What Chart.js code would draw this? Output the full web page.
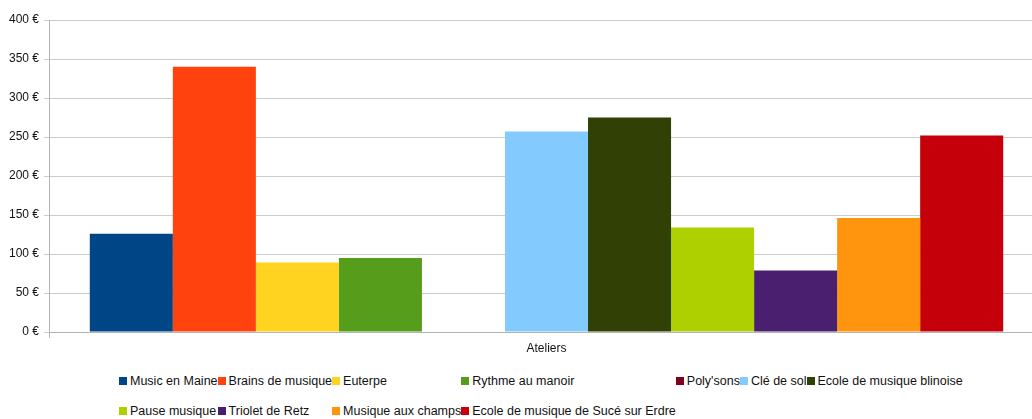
<!DOCTYPE html>
<html><head><meta charset="utf-8">
<script src="https://cdn.jsdelivr.net/npm/chart.js@4/dist/chart.umd.min.js"></script>
<style>
html,body{margin:0;padding:0;background:#fff;overflow:hidden;width:1032px;height:419px;position:relative;}
#wrap{position:absolute;left:0;top:0;width:1044px;height:360px;}
#legend{position:absolute;left:119px;top:366px;display:grid;grid-template-columns:repeat(7,auto);font:12.5px "Liberation Sans",Arial,sans-serif;color:#111;}
.item{display:flex;align-items:center;height:30px;white-space:nowrap;}
.sw{width:8px;height:8px;margin-right:3px;flex:none;}
</style>
</head><body>
<div id="wrap"><canvas id="c" width="1044" height="360"></canvas></div>
<div id="legend"></div>
<script>
const categories = ['Ateliers'];
const seriesNames = ['Music en Maine', 'Brains de musique', 'Euterpe', 'Rythme au manoir', "Poly'sons", 'Clé de sol', 'Ecole de musique blinoise', 'Pause musique', 'Triolet de Retz', 'Musique aux champs', 'Ecole de musique de Sucé sur Erdre'];
const seriesValues = [126, 340, 89, 95, 0, 257, 275, 134, 79, 146, 252];
const seriesColors = ['#004586', '#ff420e', '#ffd320', '#579d1c', '#7e0021', '#83caff', '#314004', '#aecf00', '#4b1f6f', '#ff950e', '#c5000b'];
const yTicks = [0, 50, 100, 150, 200, 250, 300, 350, 400];

const font = {family: '"Liberation Sans", Arial, sans-serif', size: 12};
const datasets = seriesNames.map((n, i) => ({
  label: n,
  data: [seriesValues[i]],
  backgroundColor: seriesColors[i],
  borderWidth: 0,
  categoryPercentage: 0.918,
  barPercentage: 1
}));

new Chart(document.getElementById('c'), {
  type: 'bar',
  data: {labels: categories, datasets},
  options: {
    responsive: false,
    animation: false,
    devicePixelRatio: 1,
    layout: {padding: {top: 20, left: 0, right: 0, bottom: 0}},
    plugins: {legend: {display: false}, tooltip: {enabled: false}},
    scales: {
      x: {
        grid: {display: true, drawOnChartArea: false, drawTicks: true, tickLength: 6, color: '#b3b3b3'},
        border: {display: true, color: '#b3b3b3'},
        ticks: {font, color: '#111', padding: 3},
        afterFit: s => { s.height = 28; }
      },
      y: {
        min: 0, max: 400,
        afterBuildTicks: s => { s.ticks = yTicks.map(v => ({value: v})); },
        ticks: {font, color: '#111', padding: 5, callback: v => v + ' €'},
        grid: {color: '#cccccc', tickLength: 5},
        border: {display: true, color: '#b3b3b3'},
        afterFit: s => { s.width = 49; }
      }
    }
  }
});

const leg = document.getElementById('legend');
seriesNames.forEach((n, i) => {
  const d = document.createElement('div');
  d.className = 'item';
  const sw = document.createElement('span');
  sw.className = 'sw';
  sw.style.background = seriesColors[i];
  const t = document.createElement('span');
  t.textContent = n;
  d.appendChild(sw); d.appendChild(t);
  leg.appendChild(d);
});
</script>
</body></html>
